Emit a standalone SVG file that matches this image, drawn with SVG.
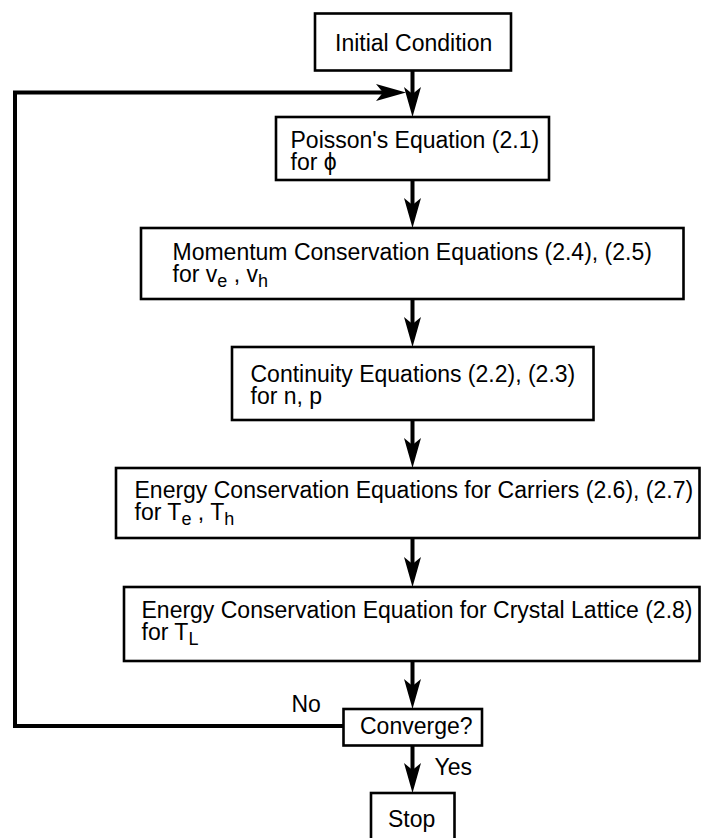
<svg xmlns="http://www.w3.org/2000/svg" width="701" height="838" viewBox="0 0 701 838">
<style>
  .box { fill: #fff; stroke: #000; stroke-width: 2.6; }
  .lbl { font-family: "Liberation Sans", Arial, Helvetica, sans-serif; font-size: 23px; fill: #000; }
  .sub { font-size: 18px; }
  .con { fill: none; stroke: #000; stroke-width: 4; }
</style>
<defs>
  <marker id="ah" markerUnits="userSpaceOnUse" viewBox="-12 -10 34 20" refX="0" refY="0" markerWidth="34" markerHeight="20" orient="auto">
    <path d="M20,0 L-10,-8.5 L-3,0 L-10,8.5 Z" fill="#000"/>
  </marker>
</defs>
<rect width="701" height="838" fill="#fff"/>

<g id="connectors">
  <line class="con" x1="412.5" y1="71" x2="412.5" y2="97" marker-end="url(#ah)"/>
  <line class="con" x1="412.5" y1="180" x2="412.5" y2="208" marker-end="url(#ah)"/>
  <line class="con" x1="412.5" y1="299" x2="412.5" y2="327" marker-end="url(#ah)"/>
  <line class="con" x1="412.5" y1="420" x2="412.5" y2="448" marker-end="url(#ah)"/>
  <line class="con" x1="412.5" y1="538" x2="412.5" y2="567" marker-end="url(#ah)"/>
  <line class="con" x1="412.5" y1="661" x2="412.5" y2="689" marker-end="url(#ah)"/>
  <line class="con" x1="412.5" y1="746" x2="412.5" y2="773" marker-end="url(#ah)"/>
  <polyline class="con" points="343,726 15,726 15,92.5 386,92.5" marker-end="url(#ah)"/>
  <text class="lbl" x="291.5" y="711.5">No</text>
  <text class="lbl" x="434.5" y="775">Yes</text>
</g>

<g id="initial">
  <rect class="box" x="315" y="13.5" width="196" height="57"/>
  <text class="lbl" x="335" y="50.5">Initial Condition</text>
</g>

<g id="poisson">
  <rect class="box" x="276" y="117" width="273" height="63"/>
  <text class="lbl" x="290.5" y="148">Poisson's Equation (2.1)</text>
  <text class="lbl" x="290.5" y="170">for  ϕ</text>
</g>

<g id="momentum">
  <rect class="box" x="141" y="228" width="542.5" height="71"/>
  <text class="lbl" x="172.5" y="259.5">Momentum Conservation Equations (2.4), (2.5)</text>
  <text class="lbl" x="172.5" y="281.5">for v<tspan class="sub" dy="5">e</tspan><tspan dy="-5"> , v</tspan><tspan class="sub" dy="5">h</tspan></text>
</g>

<g id="continuity">
  <rect class="box" x="232" y="347" width="361.5" height="73"/>
  <text class="lbl" x="250.5" y="381.5">Continuity Equations (2.2), (2.3)</text>
  <text class="lbl" x="250.5" y="403.5">for n, p</text>
</g>

<g id="energy-carriers">
  <rect class="box" x="116" y="468" width="583.5" height="70"/>
  <text class="lbl" x="134.5" y="498">Energy Conservation Equations for Carriers (2.6), (2.7)</text>
  <text class="lbl" x="134.5" y="520">for T<tspan class="sub" dy="5">e</tspan><tspan dy="-5"> , T</tspan><tspan class="sub" dy="5">h</tspan></text>
</g>

<g id="energy-lattice">
  <rect class="box" x="124" y="587" width="575.5" height="74"/>
  <text class="lbl" x="141.5" y="618">Energy Conservation Equation for Crystal Lattice (2.8)</text>
  <text class="lbl" x="141.5" y="640">for T<tspan class="sub" dy="5">L</tspan></text>
</g>

<g id="converge">
  <rect class="box" x="343.5" y="709" width="138.5" height="36.5"/>
  <text class="lbl" x="360" y="733.5">Converge?</text>
</g>

<g id="stop">
  <rect class="box" x="371" y="793" width="83.5" height="60"/>
  <text class="lbl" x="388" y="826.5">Stop</text>
</g>
</svg>
